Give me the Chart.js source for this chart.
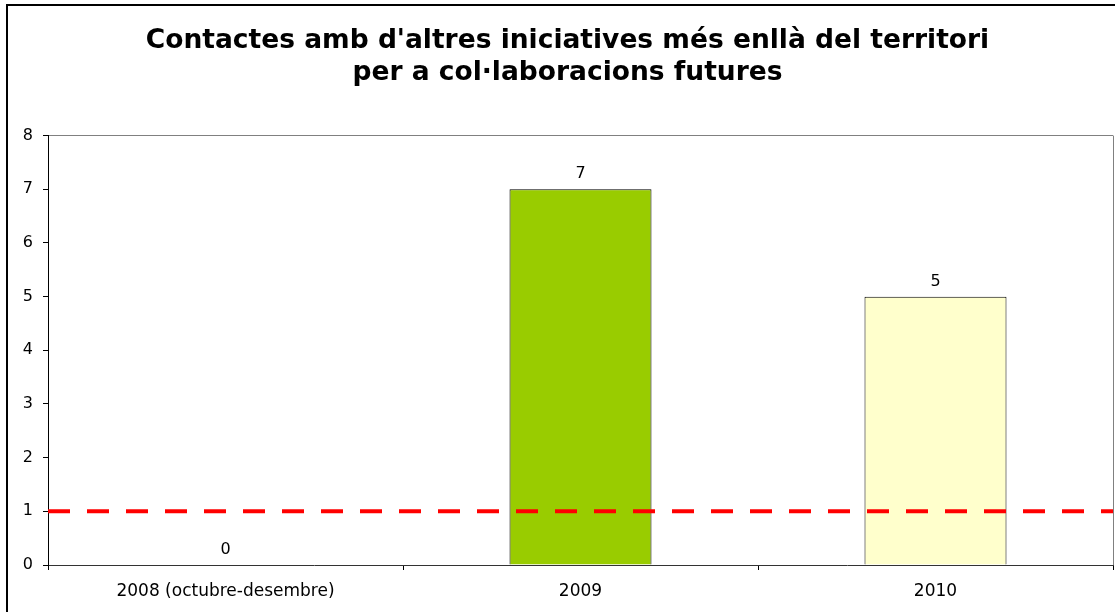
<!DOCTYPE html>
<html>
<head>
<meta charset="utf-8">
<script src="https://cdn.jsdelivr.net/npm/chart.js@4/dist/chart.umd.min.js"></script>
<style>
  html, body { margin: 0; padding: 0; background: #fff; }
  #wrap { position: relative; width: 1115px; height: 612px; overflow: hidden; }
  #frame { position: absolute; left: 6px; top: 4px; width: 1200px; height: 700px;
           border: 2px solid #000; pointer-events: none; }
</style>
</head>
<body>
<div id="wrap">
  <canvas id="myChart" width="1115" height="612"></canvas>
  <div id="frame"></div>
</div>
<script>
// data
const categories = ['2008 (octubre-desembre)', '2009', '2010'];
const values = [0, 7, 5];
const barColors = ['#99CC00', '#99CC00', '#FFFFCC'];
const thresholdValue = 1;
const titleLines = ["Contactes amb d'altres iniciatives més enllà del territori", 'per a col·laboracions futures'];

Chart.defaults.font.family = '"DejaVu Sans", Verdana, sans-serif';
Chart.defaults.color = '#000';

// draws the value above each bar
const valueLabels = {
    id: 'valueLabels',
    afterDatasetsDraw(chart) {
        const ctx = chart.ctx;
        const meta = chart.getDatasetMeta(0);
        ctx.save();
        ctx.font = '16px "DejaVu Sans", Verdana, sans-serif';
        ctx.fillStyle = '#000';
        ctx.textAlign = 'center';
        ctx.textBaseline = 'middle';
        meta.data.forEach((bar, i) => {
            ctx.fillText(String(values[i]), bar.x, bar.y - 15);
        });
        ctx.restore();
    }
};

let canvas = document.getElementById('myChart');
let ctx = canvas.getContext('2d');

let chart = new Chart(ctx, {
    type: 'bar',
    data: {
        labels: categories,
        datasets: [
            {
                type: 'bar',
                data: values,
                backgroundColor: barColors,
                borderColor: '#000',
                borderWidth: 1,
                barPercentage: 0.4,
                categoryPercentage: 1,
                grouped: false,
                order: 1
            },
            {
                type: 'line',
                xAxisID: 'xLine',
                data: [{ x: 0, y: thresholdValue }, { x: 1, y: thresholdValue }],
                borderColor: '#FF0000',
                borderWidth: 4,
                borderDash: [22, 17],
                pointRadius: 0,
                fill: false,
                order: 0
            }
        ]
    },
    options: {
        responsive: false,
        animation: false,
        layout: { padding: { left: 22, right: 2, top: 0, bottom: 0 } },
        plugins: {
            legend: { display: false },
            tooltip: { enabled: false },
            title: {
                display: true,
                text: titleLines,
                font: { size: 26.5, weight: 'bold' },
                lineHeight: 34 / 26.5,
                color: '#000',
                padding: { top: 25, bottom: 47 }
            }
        },
        scales: {
            x: {
                type: 'category',
                afterFit(scale) { scale.height = 47; },
                grid: {
                    offset: true,
                    drawOnChartArea: true,
                    color: (c) => c.type === 'scale' ? '#808080' : 'transparent',
                    tickColor: '#000',
                    tickLength: 5
                },
                border: { display: true, color: '#333', width: 1 },
                ticks: { font: { size: 17 }, padding: 11, color: '#000', maxRotation: 0 }
            },
            xLine: {
                type: 'linear',
                display: false,
                offset: false,
                min: 0,
                max: 1
            },
            y: {
                min: 0,
                max: 8,
                afterFit(scale) { scale.width = 26; },
                grid: {
                    color: (c) => c.tick && c.tick.value === 8 ? '#808080' : 'transparent',
                    tickColor: '#000',
                    tickLength: 5
                },
                border: { display: true, color: '#000', width: 1 },
                ticks: { stepSize: 1, font: { size: 16 }, padding: 10, color: '#000' }
            }
        }
    },
    plugins: [valueLabels]
});
</script>
</body>
</html>
